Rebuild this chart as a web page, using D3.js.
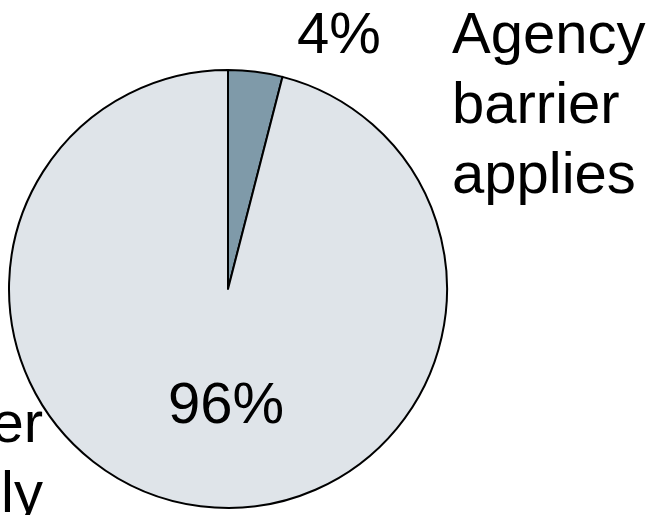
<!DOCTYPE html>
<html>
<head>
<meta charset="utf-8">
<script src="https://cdn.jsdelivr.net/npm/d3@7"></script>
<style>
  html, body { margin: 0; padding: 0; background: #fff; overflow: hidden; }
  svg { display: block; }
</style>
</head>
<body>
<svg id="chart" width="658" height="515"></svg>
<script>
// Share of cases where the agency barrier applies
const categories = ["Agency barrier applies", "Agency barrier does not apply"];
const values = [4, 96];
const valueLabels = ["4%", "96%"];
const categoryLines = [["Agency", "barrier", "applies"], ["Agency barrier", "does not apply"]];
const colors = ["#7f9aa9", "#dfe4e9"];

const svg = d3.select("#chart");
const cx = 228, cy = 289, r = 219;
const font = "Liberation Sans, Arial, Helvetica, sans-serif";
const fontSize = 58;

const pie = d3.pie().sort(null).value(d => d);
const arcs = pie(values);
const arc = d3.arc().innerRadius(0).outerRadius(r);

const g = svg.append("g").attr("transform", `translate(${cx},${cy})`);

g.selectAll("path")
  .data(arcs)
  .join("path")
  .attr("d", arc)
  .attr("fill", (d, i) => colors[i])
  .attr("stroke", "#000")
  .attr("stroke-width", 2)
  .attr("stroke-linejoin", "round");

// Value labels
const valuePos = [[339, 53], [226, 423]];
svg.selectAll("text.value")
  .data(valueLabels)
  .join("text")
  .attr("class", "value")
  .attr("x", (d, i) => valuePos[i][0])
  .attr("y", (d, i) => valuePos[i][1])
  .attr("text-anchor", "middle")
  .attr("font-family", font)
  .attr("font-size", fontSize)
  .attr("fill", "#000")
  .text(d => d);

// Category labels
const catPos = [{x: 452, y: 53, anchor: "start"}, {x: 43, y: 442, anchor: "end"}];
const lineStep = 70;
categoryLines.forEach((lines, i) => {
  const t = svg.append("text")
    .attr("font-family", font)
    .attr("font-size", fontSize)
    .attr("fill", "#000")
    .attr("text-anchor", catPos[i].anchor);
  lines.forEach((ln, j) => {
    t.append("tspan")
      .attr("x", catPos[i].x)
      .attr("y", catPos[i].y + j * lineStep)
      .text(ln);
  });
});
</script>
</body>
</html>
